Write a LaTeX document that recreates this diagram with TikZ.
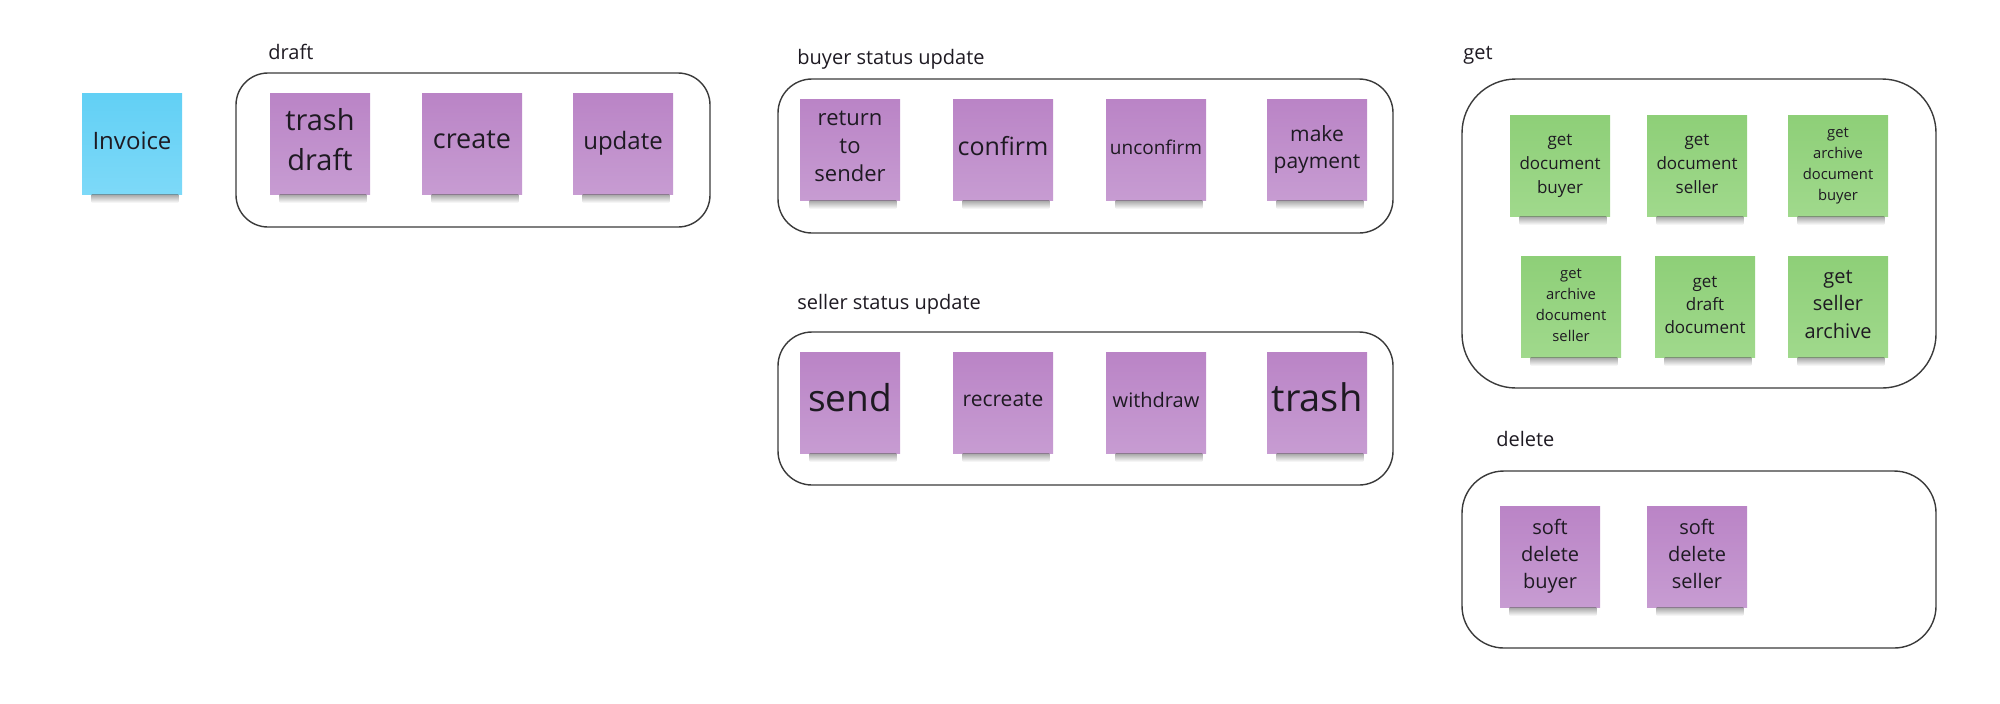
\documentclass[tikz,border=0pt]{standalone}
\usepackage{fontspec}
\setmainfont{Open Sans}
\usetikzlibrary{positioning}

\definecolor{inktext}{HTML}{1E1A22}
\definecolor{framegray}{HTML}{3A3A3A}
\definecolor{purpletop}{HTML}{BA84C6}
\definecolor{purplebot}{HTML}{C79CD2}
\definecolor{bluetop}{HTML}{62D0F5}
\definecolor{bluebot}{HTML}{7DD9F8}
\definecolor{greentop}{HTML}{8ECF78}
\definecolor{greenbot}{HTML}{A0D98C}

\newcommand{\fsz}[2]{\fontsize{#1}{#2}\selectfont}

\begin{document}
\begin{tikzpicture}[
    x=0.5pt, y=-0.5pt,
    every node/.style={text=inktext, align=center},
    sticky/.style={rectangle, minimum width=50pt, minimum height=50.5pt, inner sep=1pt,
        execute at end node={\rule[-0.3em]{0pt}{0pt}}},
    purplenote/.style={sticky, top color=purpletop, bottom color=purplebot},
    bluenote/.style={sticky, top color=bluetop, bottom color=bluebot},
    greennote/.style={sticky, top color=greentop, bottom color=greenbot},
    grouplabel/.style={anchor=west, inner sep=0pt, font=\fsz{10}{12}},
    groupbox/.style={draw=framegray, line width=0.7pt}
]
\useasboundingbox (0,0) rectangle (2000,703);

% group frames
\draw[groupbox, rounded corners=16pt] (236,73) rectangle (710,227);
\draw[groupbox, rounded corners=17pt] (778,79) rectangle (1393,233);
\draw[groupbox, rounded corners=17pt] (778,332) rectangle (1393,485);
\draw[groupbox, rounded corners=27pt] (1462,79) rectangle (1936,388);
\draw[groupbox, rounded corners=21pt] (1462,471) rectangle (1936,648);

% group titles
\node[grouplabel] (lbldraft) at (268,52) {draft};
\node[grouplabel] (lblbuyer) at (797,59) {buyer status update};
\node[grouplabel] (lblseller) at (797,304) {seller status update};
\node[grouplabel] (lblget) at (1463,55) {get};
\node[grouplabel] (lbldelete) at (1496,439) {delete};

% invoice + draft
\node[bluenote, font=\fsz{12}{14}] (inv) at (132,144) {Invoice};
\node[purplenote, font=\fsz{14.5}{20}] (trashdraft) at (320,144) {trash\\draft};
\node[purplenote, font=\fsz{13.5}{16}] (create) at (472,144) {create};
\node[purplenote, font=\fsz{12}{14}] (update) at (623,144) {update};

% buyer status update
\node[purplenote, font=\fsz{11}{14}] (rts) at (850,150) {return\\to\\sender};
\node[purplenote, font=\fsz{12.5}{15}] (confirm) at (1003,150) {confirm};
\node[purplenote, font=\fsz{9.5}{12}] (unconfirm) at (1156,150) {unconfirm};
\node[purplenote, font=\fsz{10.5}{13.5}] (pay) at (1317,150) {make\\payment};

% seller status update
\node[purplenote, font=\fsz{18.5}{22}] (send) at (850,403) {send};
\node[purplenote, font=\fsz{10.5}{13}] (recreate) at (1003,403) {recreate};
\node[purplenote, font=\fsz{10}{12}] (withdraw) at (1156,403) {withdraw};
\node[purplenote, font=\fsz{19}{22}] (trash) at (1317,403) {trash};

% get
\node[greennote, font=\fsz{8.5}{12}] (gdb) at (1560,166) {get\\document\\buyer};
\node[greennote, font=\fsz{8.5}{12}] (gds) at (1697,166) {get\\document\\seller};
\node[greennote, font=\fsz{7.4}{10.5}] (gadb) at (1838,166) {get\\archive\\document\\buyer};
\node[greennote, font=\fsz{7.4}{10.5}] (gads) at (1571,307) {get\\archive\\document\\seller};
\node[greennote, font=\fsz{8.5}{11.5}] (gdd) at (1705,307) {get\\draft\\document};
\node[greennote, font=\fsz{10}{13.75}] (gsa) at (1838,307) {get\\seller\\archive};

% delete
\node[purplenote, font=\fsz{10}{13.6}] (sdb) at (1550,557) {soft\\delete\\buyer};
\node[purplenote, font=\fsz{10}{13.6}] (sds) at (1697,557) {soft\\delete\\seller};

% soft shadows under the notes
\foreach \n in {inv,trashdraft,create,update,rts,confirm,unconfirm,pay,
                send,recreate,withdraw,trash,gdb,gds,gadb,gads,gdd,gsa,sdb,sds}
    \shade[top color=black!55, bottom color=white, opacity=0.6]
        ([xshift=5pt]\n.south west) rectangle ([xshift=-2pt, yshift=-4pt]\n.south east);

\end{tikzpicture}
\end{document}
